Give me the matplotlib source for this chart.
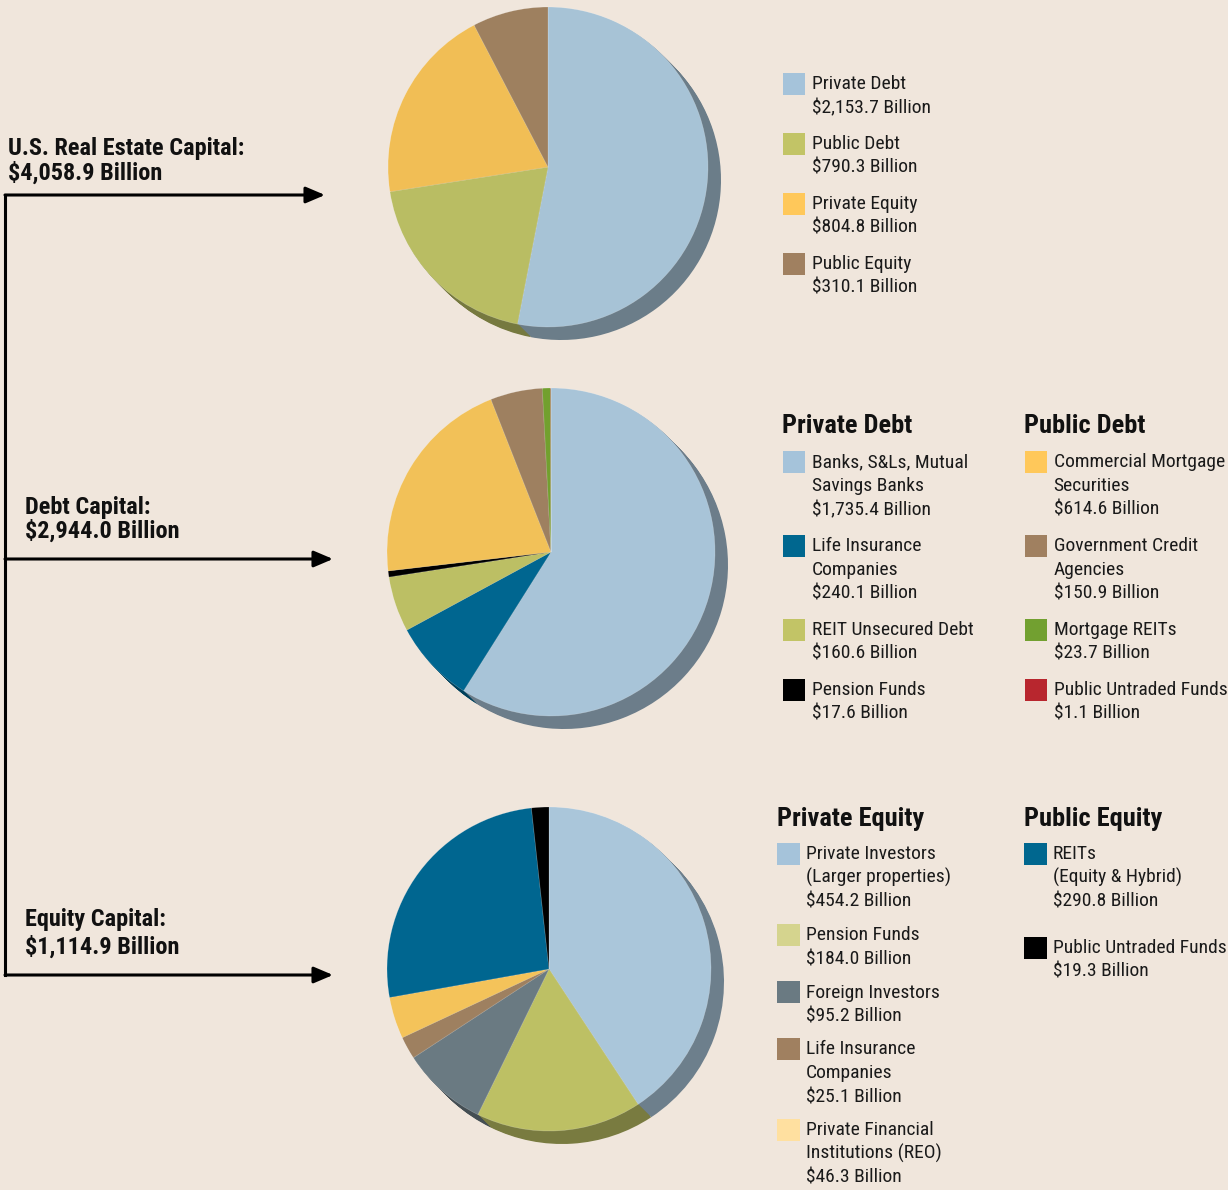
import numpy as np
import matplotlib.pyplot as plt
from matplotlib import font_manager
from matplotlib.colors import to_rgb
from matplotlib.patches import Rectangle

W, H = 1228, 1190
bg = '#f0e6dc'

# top pie: U.S. real estate capital
cap_names = ['Private Debt', 'Public Debt', 'Private Equity', 'Public Equity']
cap_values = [2153.7, 790.3, 804.8, 310.1]
cap_colors = ['#a7c3d6', '#b9bd63', '#f1be55', '#9e805f']
cap_swatch = ['#a5c3da', '#c2c466', '#ffc85a', '#a08060']

# middle pie: debt capital (4 private, then 4 public)
debt_names = ['Banks, S&Ls, Mutual\nSavings Banks', 'Life Insurance\nCompanies',
              'REIT Unsecured Debt', 'Pension Funds',
              'Commercial Mortgage\nSecurities', 'Government Credit\nAgencies',
              'Mortgage REITs', 'Public Untraded Funds']
debt_values = [1735.4, 240.1, 160.6, 17.6, 614.6, 150.9, 23.7, 1.1]
debt_colors = ['#a8c4d8', '#006690', '#bcbf64', '#000000',
               '#f2c158', '#9e8060', '#72a02e', '#b8262e']
debt_swatch = ['#a5c3da', '#00678f', '#c2c466', '#000000',
               '#ffc85a', '#a08060', '#72a030', '#b8262e']

# bottom pie: equity capital (5 private, then 2 public)
eq_names = ['Private Investors\n(Larger properties)', 'Pension Funds',
            'Foreign Investors', 'Life Insurance\nCompanies',
            'Private Financial\nInstitutions (REO)',
            'REITs\n(Equity & Hybrid)', 'Public Untraded Funds']
eq_values = [454.2, 184.0, 95.2, 25.1, 46.3, 290.8, 19.3]
eq_colors = ['#aac6da', '#bdc064', '#6a7a82', '#9e8060', '#f4c35a',
             '#006690', '#000000']
eq_swatch = ['#a5c3da', '#d5d48e', '#6a7a82', '#a08060', '#ffe0a0',
             '#00678f', '#000000']

installed = {f.name for f in font_manager.fontManager.ttflist}
body_font = [f for f in ['Roboto Condensed', 'Liberation Sans Narrow'] if f in installed] + ['DejaVu Sans']
plt.rcParams['font.family'] = body_font

fig = plt.figure(figsize=(W / 100, H / 100), dpi=100, facecolor=bg)
ax = fig.add_axes([0, 0, 1, 1])
ax.set_facecolor(bg)


def shade(c):
    return tuple(v * 0.64 for v in to_rgb(c))


def draw_pie(values, colors, cx, cy, r, depth=13):
    # stack of darker copies gives the extruded edge
    dark = [shade(c) for c in colors]
    for k in range(depth, 0, -1):
        ax.pie(values, colors=dark, center=(cx + k, cy + k), radius=r,
               startangle=-90, counterclock=True,
               wedgeprops=dict(linewidth=0))
    ax.pie(values, colors=colors, center=(cx, cy), radius=r,
           startangle=-90, counterclock=True,
           wedgeprops=dict(linewidth=0.4, edgecolor=(1, 1, 1, 0.3)))


draw_pie(cap_values, cap_colors, 548, 167, 160)
draw_pie(debt_values, debt_colors, 551, 552, 164)
draw_pie(eq_values, eq_colors, 549, 969, 162)


def money(v):
    return f'${v:,.1f} Billion'


def entry(x, top, color, name, value):
    ax.add_patch(Rectangle((x, top), 22.5, 22, facecolor=color, edgecolor='none'))
    lines = name.split('\n') + [money(value)]
    for i, s in enumerate(lines):
        ax.text(x + 29, top + 16.5 + 24 * i, s, fontsize=14, va='baseline',
                ha='left', color='#1a1a1a')


def bold(x, y, s, size):
    ax.text(x, y, s, fontsize=size, fontweight='bold', va='baseline',
            color='#111111')


# legend for the top pie
for i in range(4):
    entry(782.5, 72.5 + 60 * i, cap_swatch[i], cap_names[i], cap_values[i])

# legend for the debt pie
bold(782, 433, 'Private Debt', 19)
bold(1024, 433, 'Public Debt', 19)
debt_tops = [450.5, 534.5, 618.5, 678.5]
for i in range(4):
    entry(782.5, debt_tops[i], debt_swatch[i], debt_names[i], debt_values[i])
    entry(1024.5, debt_tops[i], debt_swatch[i + 4], debt_names[i + 4], debt_values[i + 4])

# legend for the equity pie
bold(777, 826, 'Private Equity', 19)
bold(1024, 826, 'Public Equity', 19)
eq_tops = [842.5, 923.5, 981, 1037.5, 1118.5]
for i in range(5):
    entry(777, eq_tops[i], eq_swatch[i], eq_names[i], eq_values[i])
for i, top in enumerate([842.5, 936.5]):
    entry(1024, top, eq_swatch[5 + i], eq_names[5 + i], eq_values[5 + i])

# bracket with arrows on the left
totals = [sum(cap_values), sum(debt_values), sum(eq_values)]
titles = ['U.S. Real Estate Capital:', 'Debt Capital:', 'Equity Capital:']
title_xy = [(8, 155), (25, 514), (25, 926)]
title_gap = [25, 24, 28]
arrow_y = [195, 559, 975]
arrow_tip = [325, 333, 333]

ax.plot([5, 5], [arrow_y[0], arrow_y[-1]], color='black', lw=2.2,
        solid_capstyle='projecting')
for t, tot, (tx, ty), gap, ay, tip in zip(titles, totals, title_xy, title_gap, arrow_y, arrow_tip):
    bold(tx, ty, t, 17.5)
    bold(tx, ty + gap, money(tot), 17.5)
    ax.annotate('', xy=(tip, ay), xytext=(5, ay),
                arrowprops=dict(arrowstyle='-|>,head_length=0.4,head_width=0.17',
                                mutation_scale=29, lw=2.2, color='black',
                                shrinkA=0, shrinkB=0))

ax.set_xlim(0, W)
ax.set_ylim(H, 0)
ax.set_aspect('auto')
ax.axis('off')

fig.savefig('out.png', dpi=100, facecolor=bg)
